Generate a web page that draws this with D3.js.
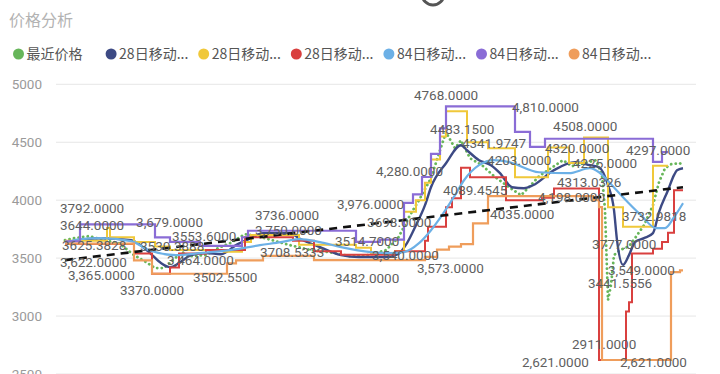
<!DOCTYPE html>
<html>
<head>
<meta charset="utf-8">
<script src="https://cdn.jsdelivr.net/npm/d3@7"></script>
<style>
  body { margin: 0; background: #fff; }
  svg { display: block; }
  .lbl { font-family: Roboto, "Noto Sans", sans-serif; font-size: 13.5px; fill: #5f5f5f; }
  .tick text { font-family: Roboto, "Noto Sans", sans-serif; font-size: 13.5px; fill: #9a9a9a; }
</style>
</head>
<body>
<div id="chart"></div>
<script>
// legend names and colours
var seriesNames = ["最近价格", "28日移动...", "28日移动...", "28日移动...", "84日移动...", "84日移动...", "84日移动..."];
var seriesColors = ["#67b65a", "#3d4a84", "#f0c83a", "#d9403f", "#6cb0e6", "#8a6cd6", "#ef9d5b"];

// [day, value]
var price = [[0,3655],[3,3672],[8,3690],[13,3655],[18,3629],[23,3526],[27,3466],[30,3414],[33,3414],[36,3483],[39,3552],[42,3517],[47,3526],[51,3586],[55,3629],[60,3707],[64,3690],[69,3655],[75,3612],[82,3569],[88,3552],[95,3517],[101,3526],[107,3569],[111,3672],[115,3871],[118,4000],[122,4190],[125,4431],[127,4586],[130,4448],[132,4517],[135,4362],[139,4302],[143,4207],[148,4112],[152,4043],[155,4121],[158,4207],[162,4276],[166,4345],[169,4293],[173,4319],[177,4345],[179,4216],[180,3914],[181,3138],[182,3267],[183,3526],[185,3569],[188,3603],[190,3672],[193,3784],[196,3957],[198,4155],[200,4276],[202,4310],[205,4319],[206,4293]];
var avg28 = [[0,3638],[12,3672],[22,3655],[28,3552],[32,3457],[35,3422],[38,3457],[42,3526],[47,3543],[52,3534],[57,3612],[62,3672],[66,3716],[75,3716],[78,3672],[85,3595],[92,3526],[98,3509],[107,3509],[111,3534],[114,3629],[117,3784],[120,3957],[122,4112],[127,4319],[132,4474],[134,4431],[138,4345],[142,4302],[145,4233],[149,4112],[153,4103],[156,4129],[163,4259],[170,4328],[175,4302],[178,4284],[181,4129],[183,3914],[184,3655],[186,3442],[188,3526],[190,3638],[193,3672],[196,3716],[198,3897],[201,4086],[203,4216],[204,4259],[206,4276]];
var max28 = [[0,3650],[14,3760],[15,3680],[23,3640],[30,3600],[35,3570],[53,3555],[59,3640],[62,3700],[78,3615],[97,3590],[102,3545],[110,3560],[113,3900],[117,4000],[120,4150],[122,4350],[125,4550],[127,4768],[134,4500],[141,4448],[150,4198],[161,4455],[168,4320],[173,4540],[181,3940],[186,3770],[196,4297],[201,4297]];
var min28 = [[0,3622],[23,3540],[29,3365],[35,3420],[38,3540],[47,3570],[60,3680],[76,3650],[83,3560],[92,3530],[110,3560],[120,3650],[121,3770],[127,3940],[129,4017],[132,4280],[135,4198],[147,4000],[159,4020],[163,4100],[178,2621],[187,3040],[188,3120],[189,3540],[196,3580],[199,3640],[201,3720],[203,4085],[206,4085]];
var avg84 = [[0,3629],[5,3664],[12,3672],[22,3647],[28,3569],[37,3526],[45,3543],[55,3569],[65,3612],[72,3638],[78,3664],[85,3638],[92,3595],[102,3552],[108,3543],[113,3552],[118,3629],[122,3741],[125,3845],[130,4043],[133,4172],[138,4302],[143,4345],[148,4328],[158,4241],[168,4233],[175,4276],[178,4241],[182,4138],[186,4026],[192,3871],[197,3759],[200,3759],[203,3853],[206,3974]];
var max84 = [[0,3644],[5,3792],[30,3679],[35,3640],[45,3605],[59,3680],[61,3736],[97,3640],[105,3660],[113,3976],[116,4050],[119,4200],[122,4400],[125,4620],[127,4810],[150,4590],[155,4460],[160,4530],[196,4330],[199,4415],[201,4415]];
var min84 = [[0,3625],[23,3480],[29,3365],[54,3455],[57,3480],[66,3520],[83,3482],[120,3510],[124,3573],[128,3600],[132,3620],[136,3800],[141,4035],[176,4000],[178,3940],[179,2621],[202,3380],[205,3395],[206,3395]];

var trendDays = [0, 206];
var trendValues = [3483, 4112];

var yTicks = [2500, 3000, 3500, 4000, 4500, 5000];

// data labels: text, day, value
var labelTexts = ["3792.0000","3644.0000","3,679.0000","3625.3828","3530.3888","3,622.0000","3,365.0000","3370.0000","3553.6000","3,464.0000","3502.5500","3736.0000","3,750.0000","3708.5333","3482.0000","3,976.0000","3698.0000","3514.7000","3,540.0000","3,573.0000","4,280.0000","4768.0000","4483.1500","4341.9747","4,810.0000","4203.0000","4089.4545","4035.0000","4508.0000","4320.0000","4225.0000","4313.0326","4,198.0000","4297.0000","3732.9818","3777.0000","3,549.0000","3441.5556","2911.0000","2,621.0000","2,621.0000"];
var labelDays = [-1.7,-1.7,23.7,-1,25,-1.7,1,18.3,35.7,34,42.7,63.3,63.3,65,90,90.7,100.7,90,102.3,117.3,103.7,116.3,121.7,132.3,149,140.7,126,141.7,162.7,160,169.3,164,157.7,187,185.7,175.7,181,174.3,169,152.3,185];
var labelValues = [3931,3785,3810,3612,3603,3466,3354,3224,3690,3483,3336,3871,3741,3552,3328,3966,3810,3647,3526,3414,4250,4905,4612,4491,4802,4345,4086,3879,4638,4448,4319,4155,4026,4431,3862,3621,3397,3285,2759,2603,2603];

var w = 720, h = 374;

var svg = d3.select("#chart").append("svg")
    .attr("width", w)
    .attr("height", h);

var x = d3.scaleLinear().domain([0, 206]).range([65, 683]);
var y = d3.scaleLinear().domain([2500, 5000]).range([374, 84.3]);

// title
svg.append("text")
   .attr("x", 9).attr("y", 26)
   .style("font-family", "'Noto Sans CJK SC', sans-serif")
   .style("font-size", "16px")
   .style("fill", "#b3b3b3")
   .text("价格分析");

// little ring cut off at the top
svg.append("circle")
   .attr("cx", 433).attr("cy", -6).attr("r", 11)
   .attr("fill", "none").attr("stroke", "#555").attr("stroke-width", 3);

// legend
var legend = svg.append("g").attr("transform", "translate(0,54)");
seriesNames.forEach(function(n, i) {
    var lx = 18.5 + i * 92.6;
    legend.append("circle").attr("cx", lx).attr("cy", 0).attr("r", 5.5).attr("fill", seriesColors[i]);
    legend.append("text")
        .attr("x", lx + 8).attr("y", 0).attr("dy", "0.36em")
        .style("font-family", "'Noto Sans CJK SC', sans-serif")
        .style("font-size", "14px")
        .style("fill", "#555")
        .text(n);
});

// y axis + grid
var yAxis = d3.axisLeft(y).tickValues(yTicks).tickFormat(d3.format("d")).tickSize(0).tickPadding(14);
svg.append("g")
   .attr("transform", "translate(56,0)")
   .call(yAxis)
   .call(function(g) { g.select(".domain").remove(); });

svg.append("g").selectAll("line")
   .data(yTicks)
   .enter().append("line")
   .attr("x1", 56).attr("x2", 696)
   .attr("y1", function(d) { return y(d); })
   .attr("y2", function(d) { return y(d); })
   .attr("stroke", "#e6e6e6").attr("stroke-width", 1);

var smooth = d3.line().x(function(d) { return x(d[0]); }).y(function(d) { return y(d[1]); }).curve(d3.curveMonotoneX);
var step = d3.line().x(function(d) { return x(d[0]); }).y(function(d) { return y(d[1]); }).curve(d3.curveStepAfter);
var straight = d3.line().x(function(d) { return x(d[0]); }).y(function(d) { return y(d[1]); });

var plot = svg.append("g");

// price as a dotted line
plot.append("path").attr("d", straight(price))
    .attr("fill", "none").attr("stroke", seriesColors[0])
    .attr("stroke-width", 2.8).attr("stroke-linecap", "round")
    .attr("stroke-dasharray", "0.1,4.5");

plot.append("path").attr("d", smooth(avg28)).attr("fill", "none").attr("stroke", seriesColors[1]).attr("stroke-width", 2.4);
plot.append("path").attr("d", step(max28)).attr("fill", "none").attr("stroke", seriesColors[2]).attr("stroke-width", 2);
plot.append("path").attr("d", step(min28)).attr("fill", "none").attr("stroke", seriesColors[3]).attr("stroke-width", 2);
plot.append("path").attr("d", smooth(avg84)).attr("fill", "none").attr("stroke", seriesColors[4]).attr("stroke-width", 2.2);
plot.append("path").attr("d", step(max84)).attr("fill", "none").attr("stroke", seriesColors[5]).attr("stroke-width", 2.2);
plot.append("path").attr("d", step(min84)).attr("fill", "none").attr("stroke", seriesColors[6]).attr("stroke-width", 2.2);

// trend line
plot.append("path")
    .attr("d", straight(trendDays.map(function(d, i) { return [d, trendValues[i]]; })))
    .attr("fill", "none").attr("stroke", "#111")
    .attr("stroke-width", 2.6).attr("stroke-dasharray", "8,6");

// data labels
svg.append("g").selectAll("text")
   .data(labelTexts)
   .enter().append("text")
   .attr("class", "lbl")
   .attr("x", function(d, i) { return x(labelDays[i]); })
   .attr("y", function(d, i) { return y(labelValues[i]); })
   .attr("dy", "0.36em")
   .text(function(d) { return d; });
</script>
</body>
</html>
